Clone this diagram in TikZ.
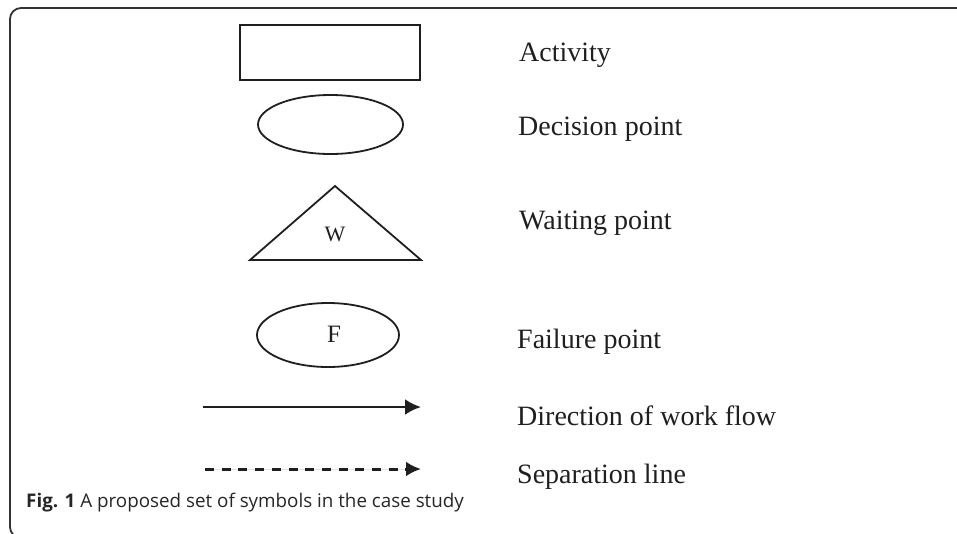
\documentclass[tikz,border=0pt]{standalone}
\usepackage{fontspec}
\setmainfont{Liberation Serif}
\setsansfont{Open Sans}
\usetikzlibrary{positioning}
\usetikzlibrary{shapes.geometric}
\usetikzlibrary{arrows.meta}
\colorlet{inkcol}{black!88}
\tikzset{>={Latex[length=16pt,width=16pt]}}

\begin{document}
\begin{tikzpicture}[x=1pt,y=-1pt,
    symb/.style={draw=inkcol, line width=1.8pt, inner sep=0pt},
    lbl/.style={anchor=base west, inner sep=0pt, text=inkcol,
      font=\fontsize{28}{30}\selectfont},
    flow/.style={->, line width=2.6pt, draw=inkcol, fill=inkcol}]
  \useasboundingbox (0,0) rectangle (957,533);
  \clip (0,0) rectangle (957,533);

  % Frame
  \draw[line width=1.8pt, black!80, rounded corners=11pt]
    (990,8) -- (10,8) -- (10,538) -- (990,538);

  % Symbols
  \node[symb, minimum width=180pt, minimum height=55pt] (act) at (330,52.5) {};
  \node[symb, ellipse, minimum width=145pt, minimum height=59pt] (dec) at (330.5,124.5) {};
  \coordinate (wTop) at (335,186);
  \coordinate (wLeft) at (250,260);
  \coordinate (wRight) at (421,260);
  \draw[line width=1.8pt, inkcol] (wLeft) -- (wTop) -- (wRight) -- cycle;
  \node[text=inkcol, font=\fontsize{22}{24}\selectfont] (wait) at (335,234) {W};
  \node[symb, ellipse, minimum width=142pt, minimum height=64pt] (fail) at (328,335) {};
  \node[text=inkcol, font=\fontsize{25}{27}\selectfont] (failF) at (334,334) {F};

  % Arrows
  \coordinate (flowA) at (203,407);
  \coordinate (flowB) at (421,407);
  \draw[flow] (flowA) -- (flowB);
  \coordinate (sepA) at (205,469);
  \coordinate (sepB) at (421,469);
  \draw[flow, line width=3pt, dash pattern=on 9pt off 7.7pt,
    >={Latex[length=15pt,width=15pt]}] (sepA) -- (sepB);

  % Labels
  \node[lbl] (lActivity) at (519,61) {Activity};
  \node[lbl] (lDecision) at (518,135) {Decision point};
  \node[lbl] (lWaiting) at (519,229) {Waiting point};
  \node[lbl] (lFailure) at (517,348) {Failure point};
  \node[lbl] (lFlow) at (517,425) {Direction of work flow};
  \node[lbl] (lSep) at (517,483) {Separation line};

  % Caption
  \node[anchor=base west, inner sep=0pt, text=black!85,
    font=\sffamily\fontsize{18.8}{21}\selectfont] (cap) at (26,507)
    {\textbf{Fig. 1} A proposed set of symbols in the case study};
\end{tikzpicture}
\end{document}
